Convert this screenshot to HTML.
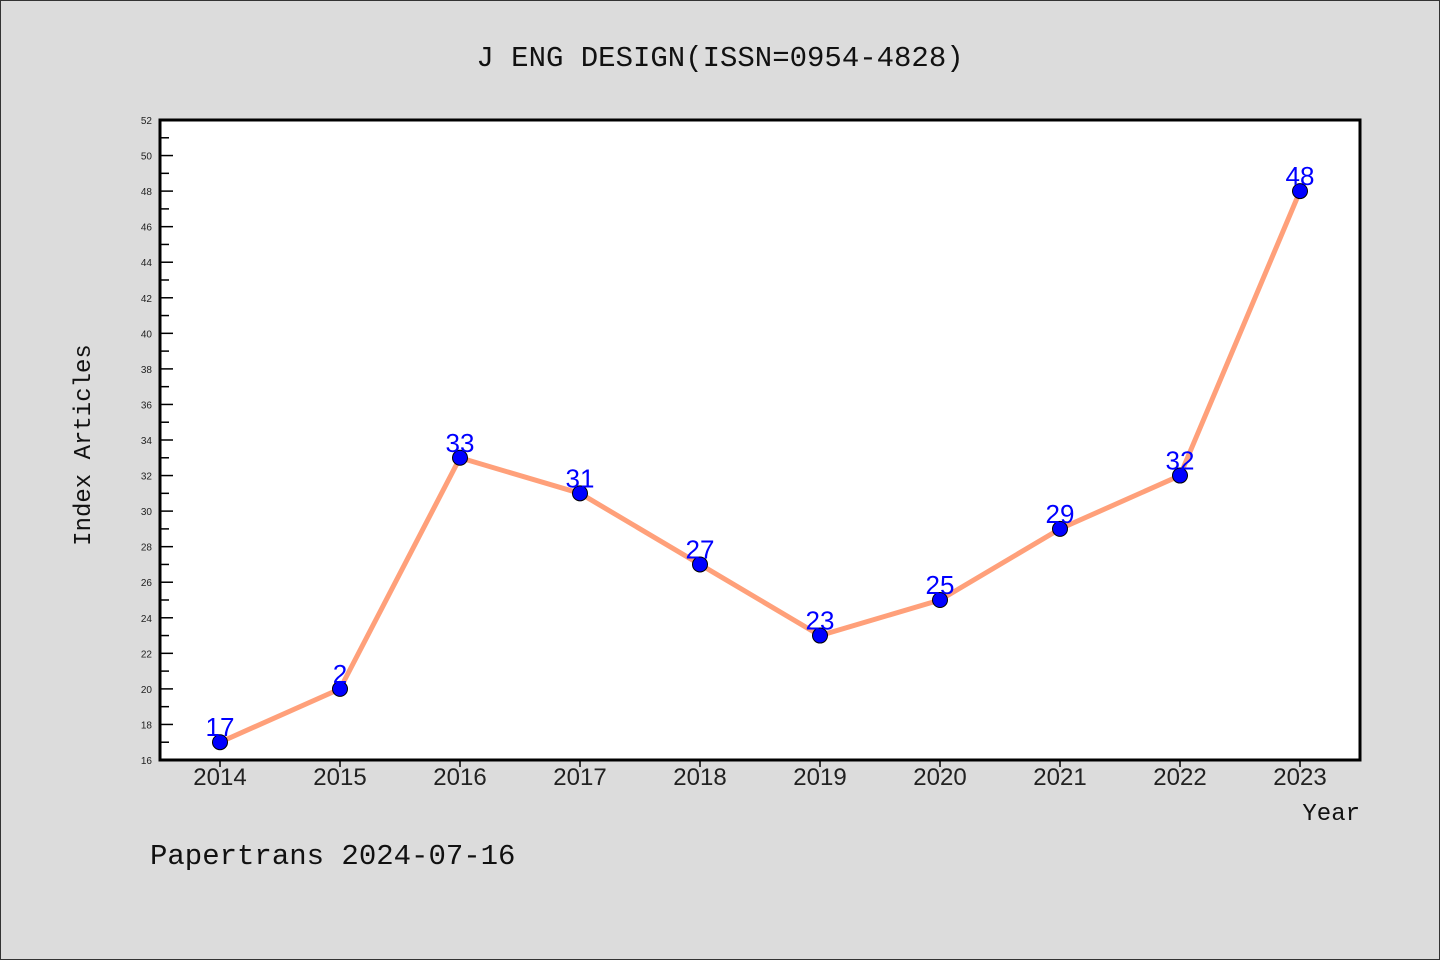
<!DOCTYPE html>
<html><head><meta charset="utf-8"><style>
html,body{margin:0;padding:0;background:#dcdcdc;}
svg{display:block;}
</style></head><body>
<svg width="1440" height="960" xmlns="http://www.w3.org/2000/svg">
<rect x="0.5" y="0.5" width="1439" height="959" fill="#dcdcdc" stroke="#333"/>
<text x="720" y="66" text-anchor="middle" font-family="Liberation Mono, DejaVu Sans Mono, monospace" font-size="29" fill="#111">J ENG DESIGN(ISSN=0954-4828)</text>
<rect x="160" y="120" width="1200" height="640" fill="#fff"/>
<g id="yticks"></g>
<g id="xticks"></g>
<g id="series"></g>
<rect x="160" y="120" width="1200" height="640" fill="none" stroke="#000" stroke-width="3"/>
<text x="90" y="445" text-anchor="middle" transform="rotate(-90 90 445)" font-family="Liberation Mono, DejaVu Sans Mono, monospace" font-size="24" fill="#111">Index Articles</text>
<text x="1360" y="820" text-anchor="end" font-family="Liberation Mono, DejaVu Sans Mono, monospace" font-size="24" fill="#111">Year</text>
<text x="150" y="864" font-family="Liberation Mono, DejaVu Sans Mono, monospace" font-size="29" fill="#111">Papertrans 2024-07-16</text>
</svg>
<script>
const years=["2014","2015","2016","2017","2018","2019","2020","2021","2022","2023"];
const values=[17,20,33,31,27,23,25,29,32,48];
const pointLabels=["17","2","33","31","27","23","25","29","32","48"];
const yTickLabels=[16,18,20,22,24,26,28,30,32,34,36,38,40,42,44,46,48,50,52];
const NS="http://www.w3.org/2000/svg";
const yMin=16,yMax=52;
function yS(v){return 760-(v-yMin)/(yMax-yMin)*640;}
function xS(i){return 220+i*120;}
function mk(t,a,p){const e=document.createElementNS(NS,t);for(const k in a)e.setAttribute(k,a[k]);p.appendChild(e);return e;}
const yg=document.getElementById('yticks');
yTickLabels.forEach(v=>{
  const y=yS(v);
  const l=mk('line',{x1:160,x2:173,y1:y,y2:y,stroke:'#000','stroke-width':1.5},yg);
  
  
  if(v<yMax){const ym=yS(v+1);const m=mk('line',{x1:160,x2:169,y1:ym,y2:ym,stroke:'#000','stroke-width':1.5},yg);
  
  }
  const t=mk('text',{x:152,y:y+4,'text-anchor':'end','font-family':'Liberation Sans, sans-serif','font-size':10,fill:'#222'},yg);
  t.textContent=v;
  
  
});
const xg=document.getElementById('xticks');
years.forEach((yr,i)=>{
  const x=xS(i);
  const l=mk('line',{x1:x,x2:x,y1:760,y2:767,stroke:'#000','stroke-width':1.5},xg);
  
  
  const t=mk('text',{x:x,y:785,'text-anchor':'middle','font-family':'Liberation Sans, sans-serif','font-size':24,fill:'#222'},xg);
  t.textContent=yr;
  
  
});
const sg=document.getElementById('series');
const pl=mk('polyline',{points:values.map((v,i)=>xS(i)+','+yS(v)).join(' '),fill:'none',stroke:'#ffa07a','stroke-width':5,'stroke-linejoin':'round'},sg);


values.forEach((v,i)=>{
  const c=mk('circle',{cx:xS(i),cy:yS(v),r:7.5,fill:'#0000ff',stroke:'#000','stroke-width':1},sg);
  
  
  const t=mk('text',{x:xS(i),y:yS(v)-6,'text-anchor':'middle','font-family':'Liberation Sans, sans-serif','font-size':26,fill:'#0000ff'},sg);
  t.textContent=pointLabels[i];
  
  
});
</script>
</body></html>
